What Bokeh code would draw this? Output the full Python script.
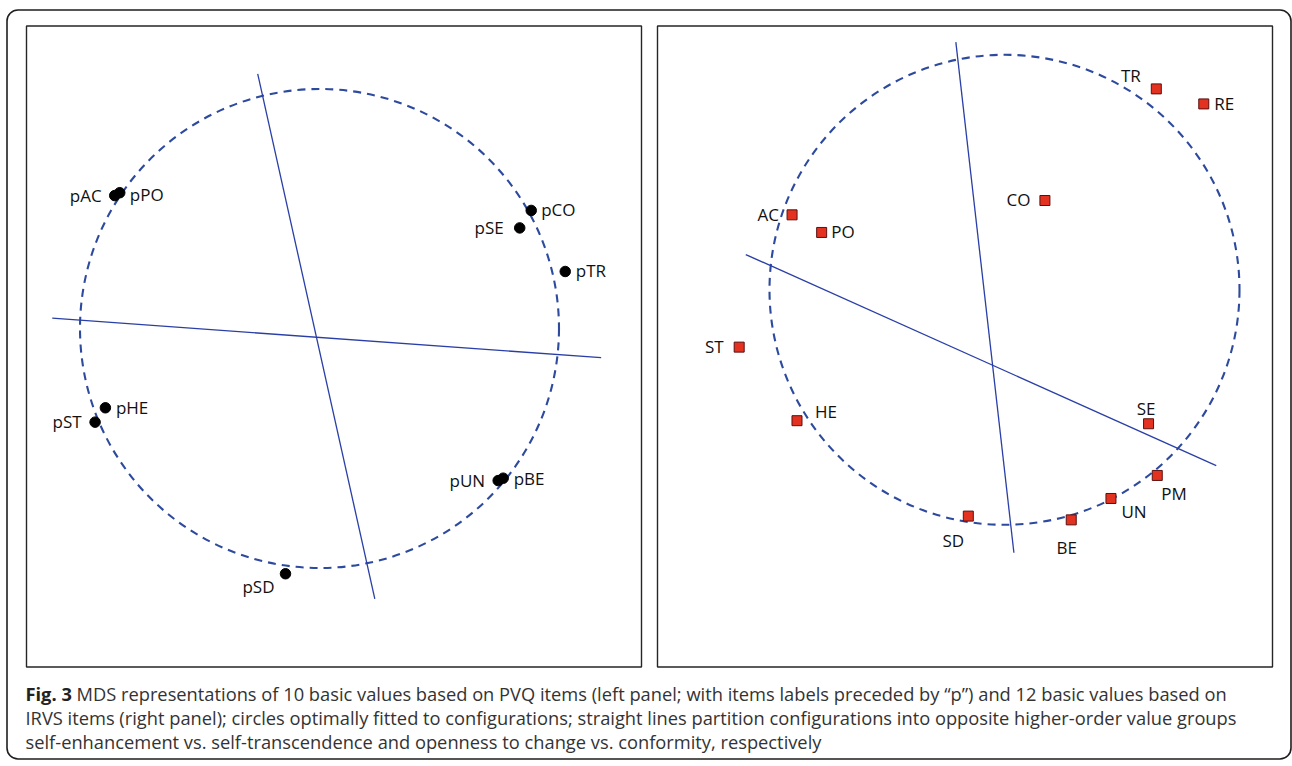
from bokeh.plotting import figure
from bokeh.models import Range1d, ColumnDataSource, BoxAnnotation, Label
from bokeh.embed import file_html
from bokeh.resources import INLINE
from bokeh.core.properties import value

# ---------------- data: left panel (PVQ items) ----------------
pvq_labels = ["pAC", "pPO", "pCO", "pSE", "pTR", "pHE", "pST", "pUN", "pBE", "pSD"]
pvq_x = [-0.855, -0.834, 0.884, 0.836, 1.026, -0.894, -0.937, 0.746, 0.767, -0.142]
pvq_y = [0.555, 0.567, 0.493, 0.420, 0.238, -0.331, -0.391, -0.635, -0.625, -1.024]
pvq_circle_x = [0.0]
pvq_circle_y = [0.0]
pvq_circle_r = 1.0
pvq_line1_x = [-0.258, 0.231]
pvq_line1_y = [1.063, -1.129]
pvq_line2_x = [-1.116, 1.176]
pvq_line2_y = [0.043, -0.122]

# ---------------- data: right panel (IRVS items) ----------------
irvs_labels = ["TR", "RE", "CO", "AC", "PO", "ST", "HE", "SE", "PM", "UN", "BE", "SD"]
irvs_x = [0.646, 0.848, 0.172, -0.904, -0.778, -1.129, -0.883, 0.613, 0.650, 0.453, 0.284, -0.154]
irvs_y = [0.855, 0.791, 0.380, 0.319, 0.244, -0.244, -0.557, -0.570, -0.790, -0.888, -0.979, -0.963]
irvs_circle_x = [0.0]
irvs_circle_y = [0.0]
irvs_circle_r = 1.0
irvs_line1_x = [-0.207, 0.040]
irvs_line1_y = [1.054, -1.119]
irvs_line2_x = [-1.101, 0.901]
irvs_line2_y = [0.150, -0.748]

caption_bold = "Fig. 3"
caption_lines = [
    "MDS representations of 10 basic values based on PVQ items (left panel; with items labels preceded by \u201cp\u201d) and 12 basic values based on",
    "IRVS items (right panel); circles optimally fitted to configurations; straight lines partition configurations into opposite higher-order value groups",
    "self-enhancement vs. self-transcendence and openness to change vs. conformity, respectively",
]

# ---------------- label placement (screen px, style only) ----------------
pvq_align = ["right", "left", "left", "right", "left", "left", "right", "right", "left", "right"]
pvq_dx = [-13, 10, 10, -16, 10.5, 10.5, -13.5, -13, 10.5, -11]
pvq_dy = [-0.5, 2, -0.5, -0.5, -0.5, -0.5, -0.5, -0.5, 0.5, 13]

irvs_align = ["right", "left", "right", "right", "left", "right", "left", "center", "left", "left", "center", "center"]
irvs_dx = [-15.5, 10.5, -14.5, -13, 9.5, -15.5, 18, -2.5, 4, 10.5, -4.5, -15]
irvs_dy = [-13, -0.5, -0.7, -0.7, -0.7, -0.5, -9.1, -15.5, 17.8, 13.2, 27.9, 24.8]

# ---------------- page geometry ----------------
W, H = 1292, 764
OX, OY = 0, 0
BLUE_DASH = "#2d4a9e"
BLUE_LINE = "#2a3fa6"
FONT = "Open Sans"

p = figure(width=W, height=H,
           x_range=Range1d(OX, OX + W), y_range=Range1d(OY + H, OY),
           output_backend="svg", toolbar_location=None,
           x_axis_location=None, y_axis_location=None,
           min_border=0, outline_line_color=None,
           background_fill_color="white", border_fill_color="white")
p.grid.visible = False

# panel placement: (circle centre in page px, px per unit)
panels = {
    "pvq": (319.0, 328.0, 239.5),
    "irvs": (1004.0, 289.3, 235.0),
}
ex, ey = {}, {}
for name, (cx, cy, s) in panels.items():
    ex[name] = Range1d((OX - cx) / s, (OX + W - cx) / s)
    ey[name] = Range1d((cy - (OY + H)) / s, (cy - OY) / s)
p.extra_x_ranges = ex
p.extra_y_ranges = ey

# outer rounded frame and panel frames
p.add_layout(BoxAnnotation(left=6.5, right=1290.5, top=9.5, bottom=758.5, border_radius=11,
                           fill_alpha=0, line_color="#1e1e1e", line_alpha=1.0,
                           line_width=1.6, level="underlay"))
for (l, r) in [(26, 641), (657, 1272)]:
    p.add_layout(BoxAnnotation(left=l, right=r, top=25.5, bottom=666.5,
                               fill_alpha=0, line_color="#262626", line_alpha=1.0,
                               line_width=1.4, level="underlay"))


def draw_panel(name, cxs, cys, cr, l1x, l1y, l2x, l2y, xs, ys, labels, align, dx, dy, marker):
    kw = dict(x_range_name=name, y_range_name=name)
    p.circle(x=cxs, y=cys, radius=cr, fill_color=None, line_color=BLUE_DASH,
             line_width=2.1, line_dash="8 6", **kw)
    p.line(l1x, l1y, line_color=BLUE_LINE, line_width=1.3, **kw)
    p.line(l2x, l2y, line_color=BLUE_LINE, line_width=1.3, **kw)
    src = ColumnDataSource(dict(x=xs, y=ys, label=labels))
    if marker == "circle":
        p.scatter("x", "y", source=src, marker="circle", size=10.5,
                  fill_color="black", line_color="black", **kw)
    else:
        p.scatter("x", "y", source=src, marker="square", size=10,
                  fill_color="#e3321f", line_color="#5a1010", line_width=1, **kw)
    for a in ["left", "right", "center"]:
        idx = [i for i, v in enumerate(align) if v == a]
        if not idx:
            continue
        sub = ColumnDataSource(dict(x=[xs[i] for i in idx], y=[ys[i] for i in idx],
                                    label=[labels[i] for i in idx],
                                    dx=[dx[i] for i in idx], dy=[dy[i] for i in idx]))
        p.text("x", "y", text="label", source=sub, x_offset="dx", y_offset="dy",
               text_align=a, text_baseline="alphabetic",
               text_font=value(FONT), text_font_size="17px", text_color="#111111", **kw)


draw_panel("pvq", pvq_circle_x, pvq_circle_y, pvq_circle_r,
           pvq_line1_x, pvq_line1_y, pvq_line2_x, pvq_line2_y,
           pvq_x, pvq_y, pvq_labels, pvq_align, pvq_dx, pvq_dy, "circle")
draw_panel("irvs", irvs_circle_x, irvs_circle_y, irvs_circle_r,
           irvs_line1_x, irvs_line1_y, irvs_line2_x, irvs_line2_y,
           irvs_x, irvs_y, irvs_labels, irvs_align, irvs_dx, irvs_dy, "square")

# caption
cap_x = 25
cap_y = [693, 717, 741]
CAP_SIZE = "18.3px"
p.add_layout(Label(x=cap_x, y=cap_y[0], text=caption_bold, text_font=FONT,
                   text_font_style="bold", text_font_size=CAP_SIZE,
                   text_baseline="alphabetic", text_color="#222222"))
p.add_layout(Label(x=cap_x + 51, y=cap_y[0], text=caption_lines[0], text_font=FONT,
                   text_font_size=CAP_SIZE, text_baseline="alphabetic", text_color="#333333"))
for i in (1, 2):
    p.add_layout(Label(x=cap_x, y=cap_y[i], text=caption_lines[i], text_font=FONT,
                       text_font_size=CAP_SIZE, text_baseline="alphabetic", text_color="#333333"))

open("out.html", "w").write(file_html(p, INLINE))
